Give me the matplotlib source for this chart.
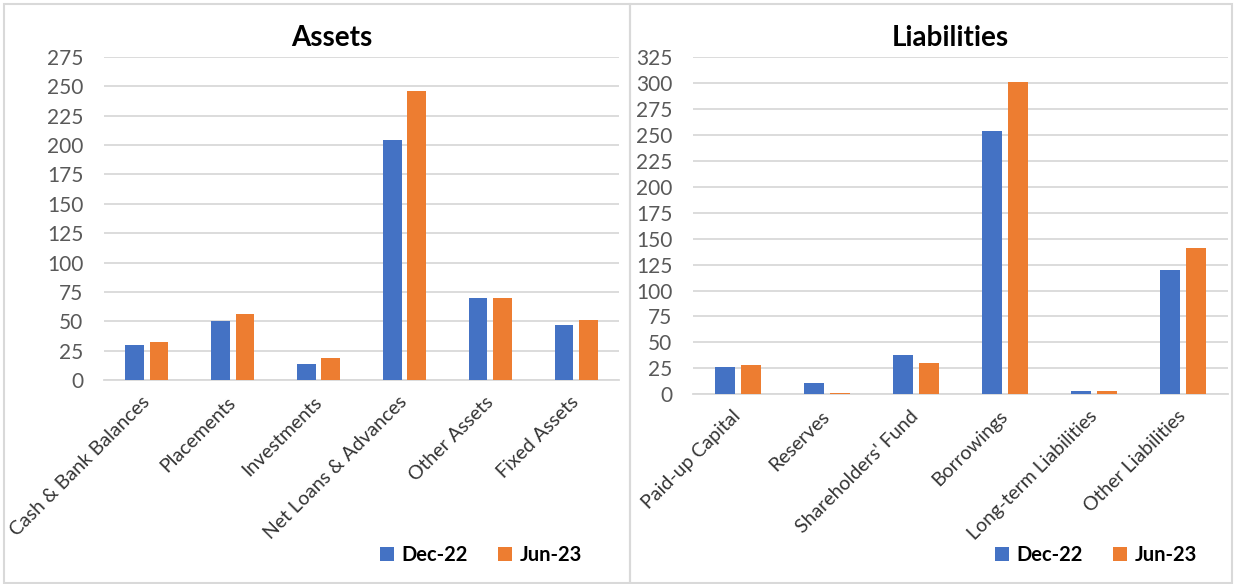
import matplotlib.pyplot as plt
import numpy as np
from matplotlib.patches import Rectangle

plt.rcParams['font.family'] = ['Lato', 'DejaVu Sans']

# datos
asset_cats = ['Cash & Bank Balances', 'Placements', 'Investments',
              'Net Loans & Advances', 'Other Assets', 'Fixed Assets']
asset_dec22 = [30, 50, 14, 204, 70, 47]
asset_jun23 = [32, 56, 19, 246, 70, 51]

liab_cats = ['Paid-up Capital', 'Reserves', "Shareholders' Fund",
             'Borrowings', 'Long-term Liabilities', 'Other Liabilities']
liab_dec22 = [26, 11, 38, 254, 3, 120]
liab_jun23 = [28.5, 1, 30.5, 300.5, 3.5, 140.5]

series_names = ['Dec-22', 'Jun-23']
yticks_assets = np.arange(0, 276, 25)
yticks_liab = np.arange(0, 326, 25)

BLUE = '#4472C4'
ORANGE = '#ED7D31'
GRID = '#d9d9d9'

W, H = 1234, 584
fig = plt.figure(figsize=(W / 100, H / 100), dpi=100)


def px_axes(x0, x1, ytop, ybot):
    return fig.add_axes([x0 / W, 1 - ybot / H, (x1 - x0) / W, (ybot - ytop) / H])


def draw_panel(ax, cats, dec, jun, yticks, width, off):
    x = np.arange(len(cats))
    ax.bar(x - off, dec, width, color=BLUE, linewidth=0, label=series_names[0], zorder=3)
    ax.bar(x + off, jun, width, color=ORANGE, linewidth=0, label=series_names[1], zorder=3)
    ax.set_xlim(-0.5, len(cats) - 0.5)
    ax.set_ylim(0, yticks[-1])
    ax.set_yticks(yticks)
    ax.set_xticks(x)
    ax.set_xticklabels(cats, rotation=45, ha='right', va='center', rotation_mode='anchor',
                       fontsize=14, color='#333333')
    ax.tick_params(axis='y', length=0, pad=15, labelsize=15, labelcolor='#595959')
    ax.tick_params(axis='x', length=0, pad=14)
    ax.grid(axis='y', color=GRID, linewidth=1.3, zorder=0)
    ax.set_axisbelow(True)
    for s in ['top', 'right', 'left']:
        ax.spines[s].set_visible(False)
    ax.spines['bottom'].set_color(GRID)
    ax.spines['bottom'].set_linewidth(1.3)


ax1 = px_axes(104, 619, 57, 380)
draw_panel(ax1, asset_cats, asset_dec22, asset_jun23, yticks_assets, 0.218, 0.142)

ax2 = px_axes(693, 1228, 57, 394.3)
draw_panel(ax2, liab_cats, liab_dec22, liab_jun23, yticks_liab, 0.224, 0.146)

# titulos
fig.text(332 / W, 1 - 38 / H, 'Assets', ha='center', va='center', fontsize=20, fontweight='bold')
fig.text(950 / W, 1 - 38 / H, 'Liabilities', ha='center', va='center', fontsize=20, fontweight='bold')

# leyendas
for ax, cx in [(ax1, 481), (ax2, 1096)]:
    h, l = ax.get_legend_handles_labels()
    fig.legend(h, l, loc='center', bbox_to_anchor=(cx / W, 1 - 555 / H), ncol=2, frameon=False,
               prop={'weight': 'bold', 'size': 14.5}, handlelength=0.7, handleheight=0.7,
               handletextpad=0.35, columnspacing=1.5, borderpad=0)

# bordes de cada grafico
fig.patches.append(Rectangle((4 / W, 1 / H), 626 / W, 579 / H, transform=fig.transFigure,
                             fill=False, edgecolor=GRID, linewidth=1.5))
fig.patches.append(Rectangle((630 / W, 1 / H), 602 / W, 579 / H, transform=fig.transFigure,
                             fill=False, edgecolor=GRID, linewidth=1.5))

fig.savefig('out.png', dpi=100)
